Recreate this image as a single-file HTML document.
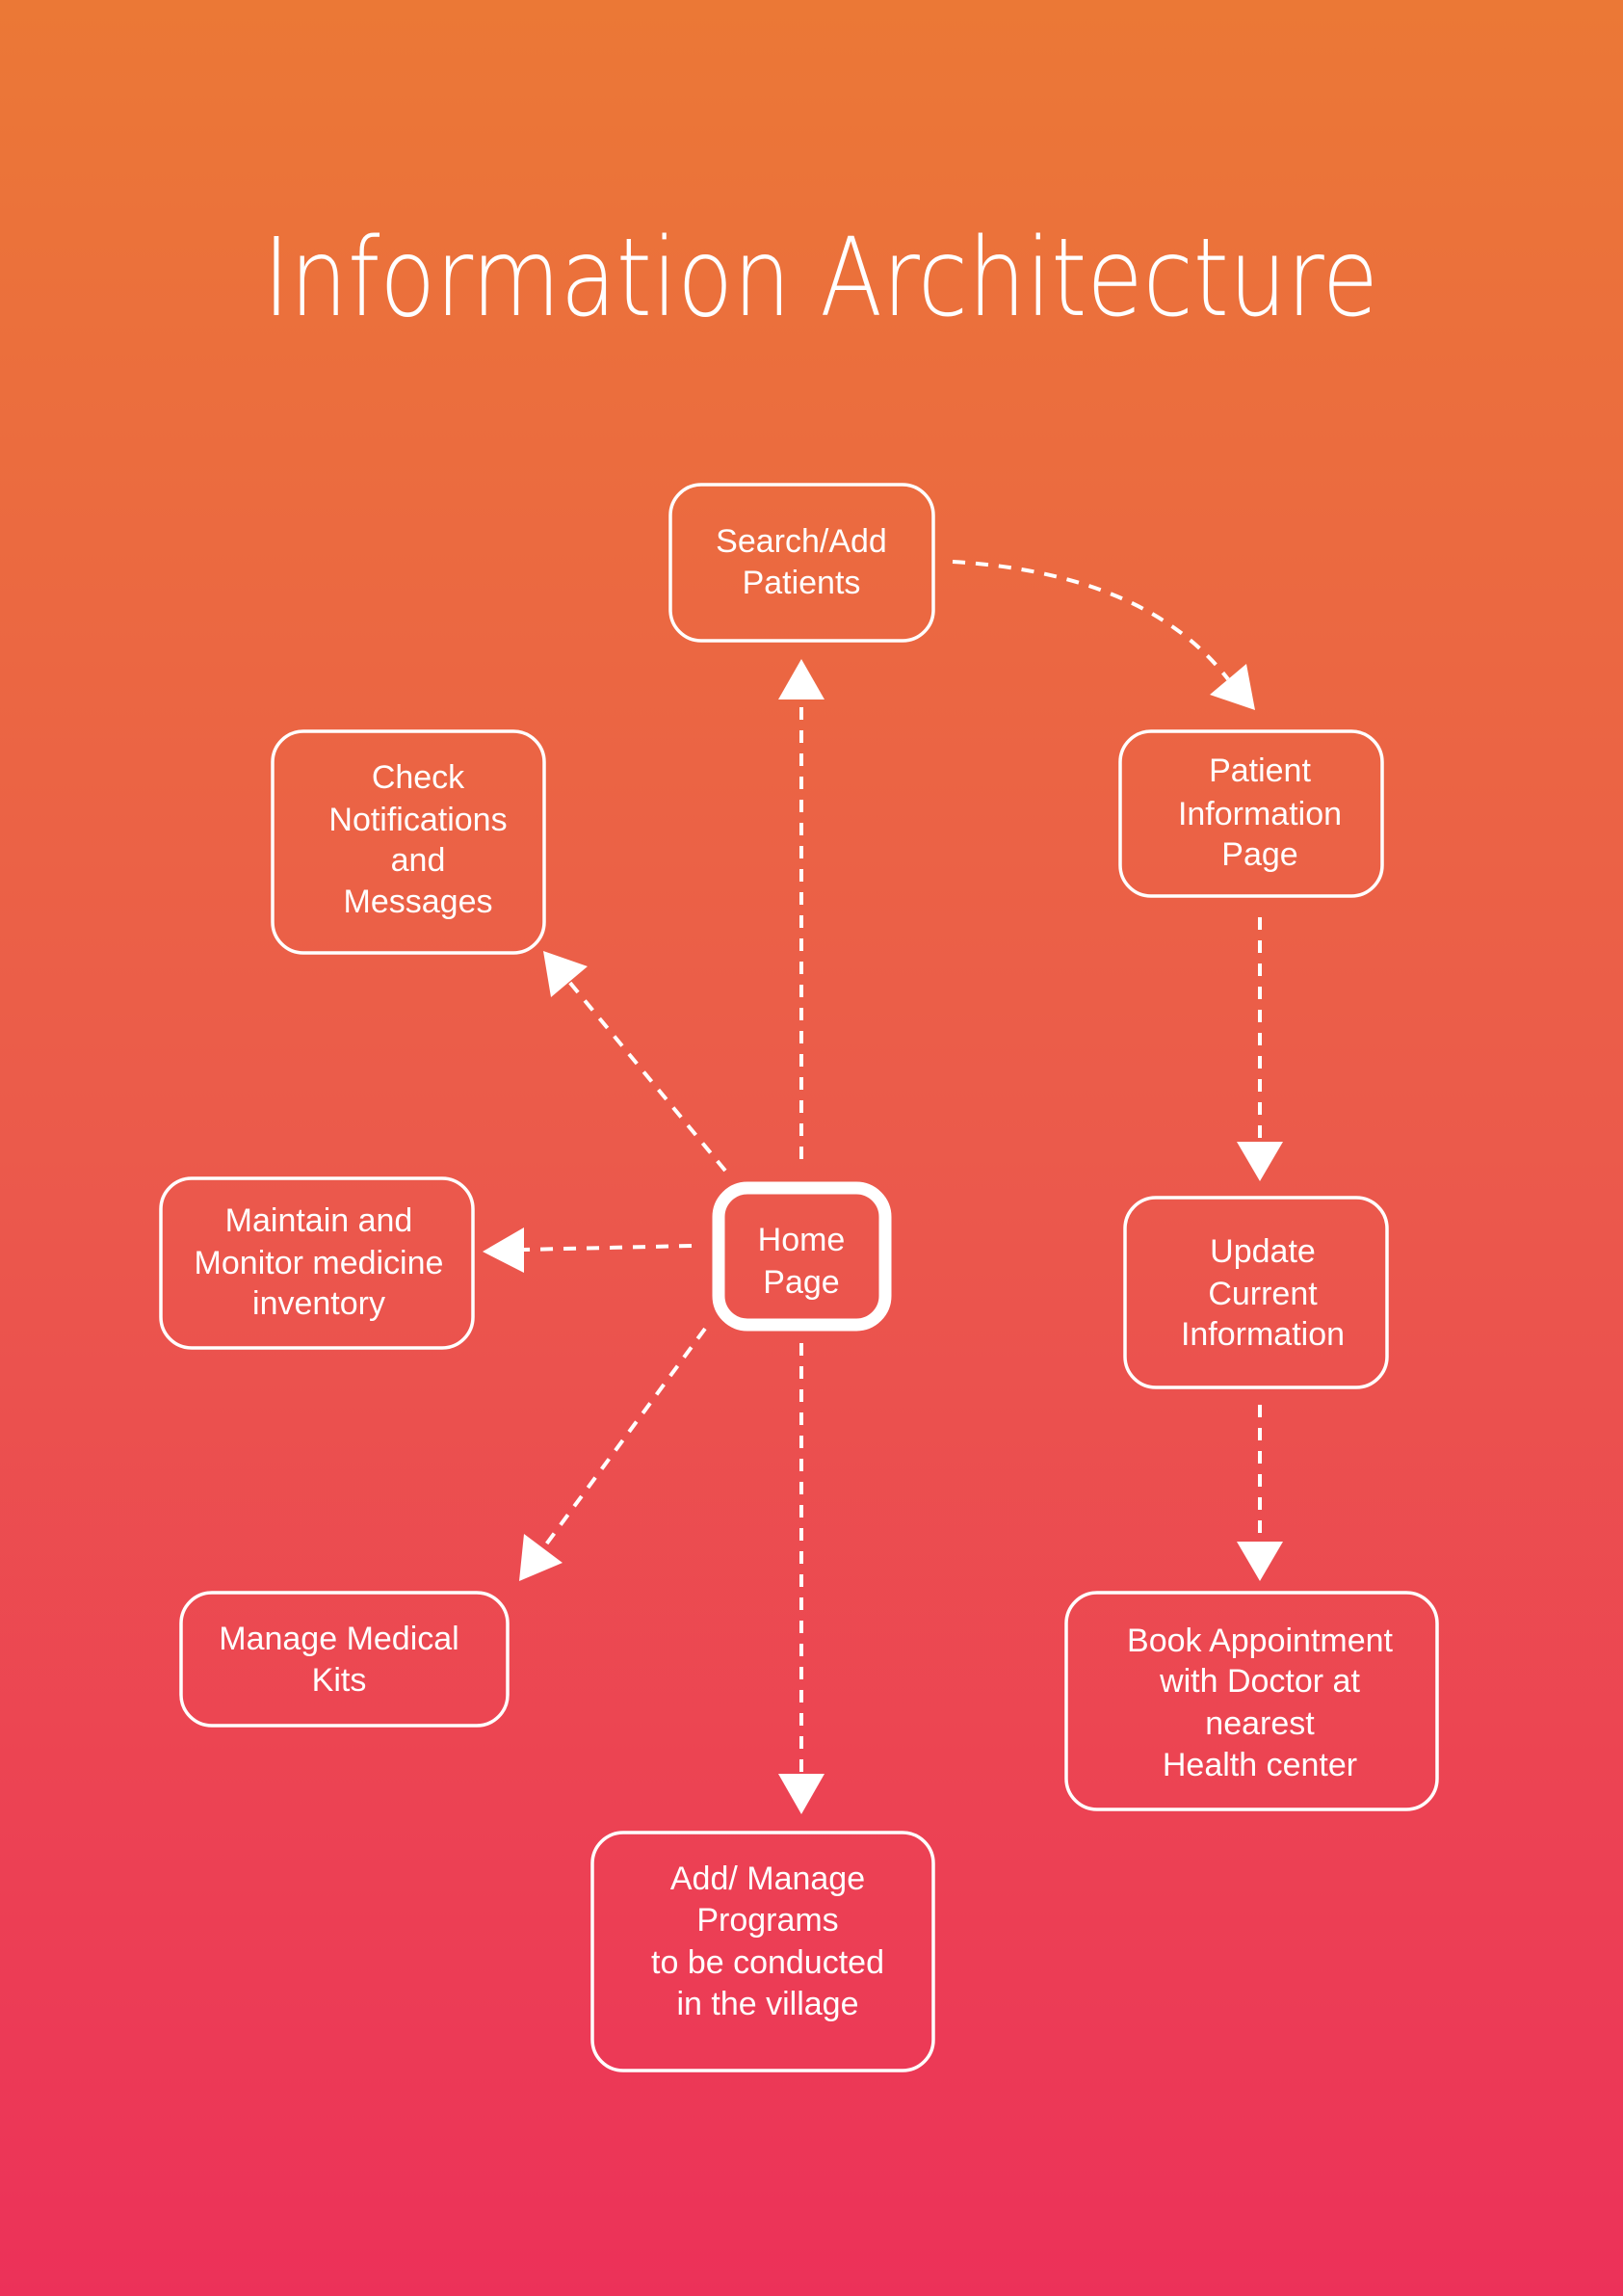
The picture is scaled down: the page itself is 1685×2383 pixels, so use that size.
<!DOCTYPE html>
<html><head><meta charset="utf-8"><style>html,body{margin:0;padding:0}svg{display:block}</style></head>
<body>
<svg width="1685" height="2383" viewBox="0 0 1685 2383" xmlns="http://www.w3.org/2000/svg">
<defs><linearGradient id="g" x1="0" y1="0" x2="0" y2="1">
<stop offset="0" stop-color="#EB7836"/><stop offset="0.5" stop-color="#EB5A4B"/><stop offset="1" stop-color="#EC3159"/></linearGradient></defs>
<rect width="1685" height="2383" fill="url(#g)"/>
<text x="852" y="327" text-anchor="middle" font-family="DejaVu Sans ExtraLight, DejaVu Sans, Liberation Sans, sans-serif" font-weight="200" font-size="112" fill="#fff" textLength="1158" lengthAdjust="spacingAndGlyphs">Information Architecture</text>
<g fill="none" stroke="#fff" stroke-width="3.5">
<rect x="696" y="503" width="273" height="162" rx="32"/>
<rect x="1163" y="759" width="272" height="171" rx="32"/>
<rect x="283" y="759" width="282" height="230" rx="32"/>
<rect x="1168" y="1243" width="272" height="197" rx="32"/>
<rect x="167" y="1223" width="324" height="176" rx="32"/>
<rect x="188" y="1653" width="339" height="138" rx="32"/>
<rect x="1107" y="1653" width="385" height="225" rx="32"/>
<rect x="615" y="1902" width="354" height="247" rx="32"/>
<rect x="746" y="1233" width="173" height="142" rx="30" stroke-width="13"/>
</g>
<g fill="none" stroke="#fff" stroke-width="4" stroke-dasharray="13 11">
<line x1="832" y1="1203" x2="832" y2="726"/>
<line x1="832" y1="1394" x2="832" y2="1841"/>
<line x1="718" y1="1293" x2="544" y2="1297"/>
<line x1="753" y1="1215" x2="591" y2="1019"/>
<line x1="732" y1="1379" x2="564" y2="1607"/>
<path d="M989 583 Q1190 595 1275 705"/>
<line x1="1308" y1="952" x2="1308" y2="1185"/>
<line x1="1308" y1="1458" x2="1308" y2="1600"/>
</g>
<g fill="#fff">
<polygon points="832,684 808,726 856,726"/>
<polygon points="832,1883 808,1841 856,1841"/>
<polygon points="501,1299 544,1274 544,1321"/>
<polygon points="564,987 610,1003 572,1035"/>
<polygon points="539,1641 584,1622 544,1592"/>
<polygon points="1303,737 1294,689 1256,721"/>
<polygon points="1308,1226 1284,1185 1332,1185"/>
<polygon points="1308,1641 1284,1600 1332,1600"/>
</g>
<g fill="#fff" font-family="Liberation Sans, sans-serif" font-size="34" text-anchor="middle">
<text x="832" y="573">Search/Add</text><text x="832" y="616">Patients</text>
<text x="1308" y="811">Patient</text><text x="1308" y="856">Information</text><text x="1308" y="898">Page</text>
<text x="434" y="818">Check</text><text x="434" y="862">Notifications</text><text x="434" y="904">and</text><text x="434" y="947">Messages</text>
<text x="1311" y="1310">Update</text><text x="1311" y="1354">Current</text><text x="1311" y="1396">Information</text>
<text x="331" y="1278">Maintain and</text><text x="331" y="1322">Monitor medicine</text><text x="331" y="1364">inventory</text>
<text x="832" y="1298">Home</text><text x="832" y="1342">Page</text>
<text x="352" y="1712">Manage Medical</text><text x="352" y="1755">Kits</text>
<text x="1308" y="1714">Book Appointment</text><text x="1308" y="1756">with Doctor at</text><text x="1308" y="1800">nearest</text><text x="1308" y="1843">Health center</text>
<text x="797" y="1961">Add/ Manage</text><text x="797" y="2004">Programs</text><text x="797" y="2048">to be conducted</text><text x="797" y="2091">in the village</text>
</g>
</svg>
</body></html>
